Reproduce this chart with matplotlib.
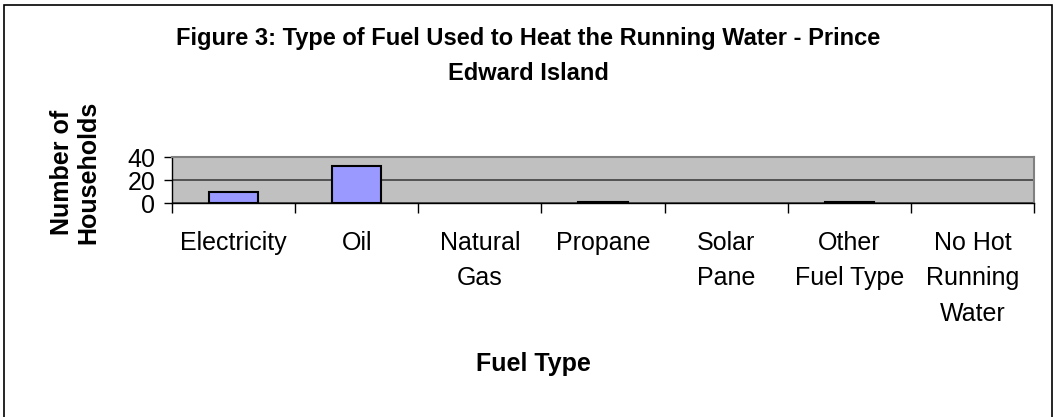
import numpy as np
import matplotlib.pyplot as plt
from matplotlib.patches import Rectangle

# данные
categories = ["Electricity", "Oil", "Natural\nGas", "Propane", "Solar\nPane",
              "Other\nFuel Type", "No Hot\nRunning\nWater"]
households = [10, 32, 0, 1, 0, 1, 0]
y_ticks = [0, 20, 40]

plt.rcParams['font.family'] = ['Liberation Sans', 'DejaVu Sans']

W, H = 1057, 417
fig = plt.figure(figsize=(W / 100, H / 100), dpi=100)

# рамка вокруг всей диаграммы
fig.patches.append(Rectangle((4 / W, -0.01), (1052 - 4) / W, (H - 5) / H + 0.01,
                             transform=fig.transFigure, fill=False,
                             edgecolor='black', linewidth=1.2))

ax = fig.add_axes([172 / W, 1 - 203 / H, (1034 - 172) / W, (203 - 157) / H])
ax.set_facecolor('#C0C0C0')

x = np.arange(len(categories))
# нулевые столбцы не рисуем контуром
edge_w = [1.5 if v > 0 else 0 for v in households]
ax.bar(x, households, width=0.4, color='#9999FF', edgecolor='black', linewidth=edge_w, zorder=3)

ax.set_xlim(-0.5, len(categories) - 0.5)
ax.set_ylim(0, 40)
ax.set_yticks(y_ticks)
ax.yaxis.grid(True, color='#404040', linewidth=1.2, zorder=1)
ax.set_axisbelow(True)

ax.set_xticks(x)
ax.set_xticklabels(categories, fontsize=18, linespacing=1.6)
ax.set_xticks(np.arange(len(categories) + 1) - 0.5, minor=True)
ax.tick_params(axis='x', which='major', length=0, pad=20)
ax.tick_params(axis='x', which='minor', length=7, width=1, color='black')
ax.tick_params(axis='y', length=6, width=1, labelsize=18, pad=6)

for s in ['top', 'right']:
    ax.spines[s].set_color('#808080')
    ax.spines[s].set_linewidth(1.5)
for s in ['left', 'bottom']:
    ax.spines[s].set_color('black')
    ax.spines[s].set_linewidth(1)

fig.text(528 / W, 1 - 56 / H, "Figure 3: Type of Fuel Used to Heat the Running Water - Prince\nEdward Island",
         ha='center', va='center', fontsize=17, fontweight='bold', linespacing=1.65)
fig.text(533 / W, 1 - 364 / H, "Fuel Type", ha='center', va='center',
         fontsize=18, fontweight='bold')
fig.text(75 / W, 1 - 172 / H, "Number of\nHouseholds", ha='center', va='center',
         rotation=90, fontsize=18, fontweight='bold', linespacing=1.15)

fig.savefig('out.png', dpi=100)
